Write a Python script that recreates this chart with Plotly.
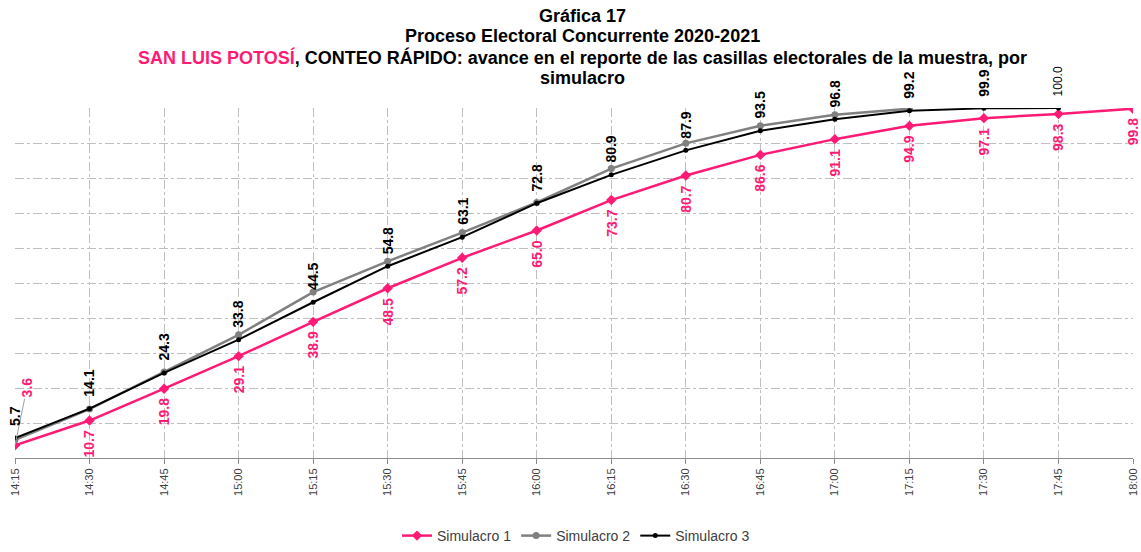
import plotly.graph_objects as go

times = ["14:15", "14:30", "14:45", "15:00", "15:15", "15:30", "15:45", "16:00",
         "16:15", "16:30", "16:45", "17:00", "17:15", "17:30", "17:45", "18:00"]
sim1 = [3.6, 10.7, 19.8, 29.1, 38.9, 48.5, 57.2, 65.0, 73.7, 80.7, 86.6, 91.1, 94.9, 97.1, 98.3, 99.8]
sim2 = [5.2, 14.0, 24.6, 35.2, 47.4, 56.2, 64.4, 73.0, 82.7, 89.9, 94.9, 98.1, 99.8]
sim3 = [5.7, 14.1, 24.3, 33.8, 44.5, 54.8, 63.1, 72.8, 80.9, 87.9, 93.5, 96.8, 99.2, 99.9, 100.0]

title_lines = [
    "<b>Gráfica 17</b>",
    "<b>Proceso Electoral Concurrente 2020-2021</b>",
    "<b><span style='color:#FF1A75'>SAN LUIS POTOSÍ</span>, CONTEO RÁPIDO: avance en el reporte de las casillas electorales de la muestra, por</b>",
    "<b>simulacro</b>",
]

PINK = "#FF1A75"
GRAY = "#808080"
BLACK = "#000000"
FONT = "Liberation Sans, Arial, sans-serif"

W, H = 1141, 552
ML, MR, MT, MB = 15, 8, 108, 94
PH = H - MT - MB
PW = W - ML - MR

fig = go.Figure()
fig.add_trace(go.Scatter(x=times[:len(sim1)], y=sim1, name="Simulacro 1", mode="lines+markers",
                         line=dict(color=PINK, width=2.5),
                         marker=dict(symbol="diamond", size=8, color=PINK)))
fig.add_trace(go.Scatter(x=times[:len(sim2)], y=sim2, name="Simulacro 2", mode="lines+markers",
                         line=dict(color=GRAY, width=2.5),
                         marker=dict(symbol="circle", size=7, color=GRAY)))
fig.add_trace(go.Scatter(x=times[:len(sim3)], y=sim3, name="Simulacro 3", mode="lines+markers",
                         line=dict(color=BLACK, width=2),
                         marker=dict(symbol="circle", size=5, color=BLACK)))

annotations = []
for i, v in enumerate(sim1):
    if i == 0:
        annotations.append(dict(x=times[i], y=v, text=f"<b>{v:.1f}</b>", textangle=-90,
                                showarrow=True, arrowhead=0, arrowwidth=1, arrowcolor="#A0A0A0",
                                ax=12, ay=-58, font=dict(family=FONT, size=14, color=PINK)))
        continue
    annotations.append(dict(x=times[i], y=v, text=f"<b>{v:.1f}</b>", textangle=-90,
                            showarrow=False, yanchor="top", yshift=-8,
                            font=dict(family=FONT, size=14, color=PINK)))
for i, v in enumerate(sim3):
    last = i == len(sim3) - 1
    annotations.append(dict(x=times[i], y=v,
                            text=(f"{v:.1f}" if last else f"<b>{v:.1f}</b>"), textangle=-90,
                            showarrow=False, yanchor="bottom", yshift=10,
                            font=dict(family=FONT, size=(12 if last else 14), color=BLACK)))

# title lines, centred at page x ~582, line centres at y ~15, 36, 57, 78
title_cx = (582 - ML) / PW
for k, line in enumerate(title_lines):
    yc = 15.5 + k * 20.8
    annotations.append(dict(xref="paper", yref="paper", x=title_cx, y=(H - MB - yc) / PH,
                            xanchor="center", yanchor="middle", showarrow=False, text=line,
                            font=dict(family=FONT, size=18, color="#000000")))

fig.update_layout(
    width=W, height=H,
    margin=dict(l=ML, r=MR, t=MT, b=MB),
    paper_bgcolor="white", plot_bgcolor="white",
    font=dict(family=FONT, color="#404040"),
    xaxis=dict(type="category", range=[0, len(times) - 1], tickangle=-90, automargin=False,
               showgrid=True, gridcolor="#BFBFBF", griddash="dashdot", gridwidth=1,
               showline=True, linecolor="#8C8C8C", linewidth=1,
               ticks="outside", ticklen=5, tickcolor="#8C8C8C",
               tickfont=dict(family=FONT, size=11, color="#404040"), zeroline=False),
    yaxis=dict(range=[0, 100], dtick=10, showticklabels=False, showgrid=True, automargin=False,
               gridcolor="#BFBFBF", griddash="dashdot", gridwidth=1, zeroline=False,
               showline=False),
    showlegend=True,
    legend=dict(orientation="h", xref="container", yref="container",
                x=576 / W, xanchor="center", y=-0.013, yanchor="bottom",
                font=dict(family=FONT, size=14, color="#404040")),
    annotations=annotations,
)

fig.write_html("out.html", config={"displayModeBar": False},
               post_script="document.body.style.margin='0px';")
